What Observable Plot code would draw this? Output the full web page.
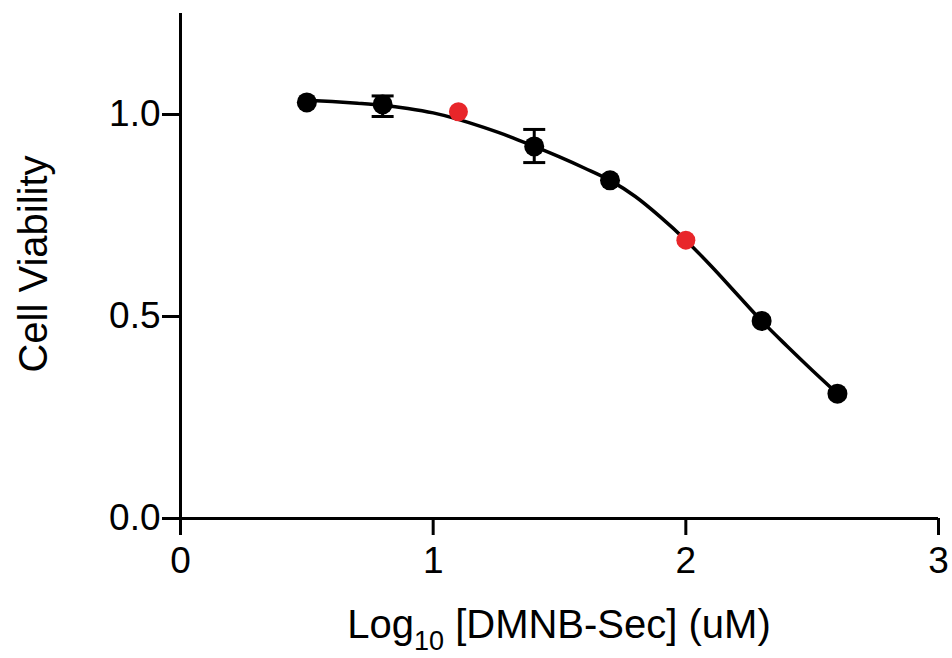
<!DOCTYPE html>
<html>
<head>
<meta charset="utf-8">
<script src="https://cdn.jsdelivr.net/npm/d3@7"></script>
<script src="https://cdn.jsdelivr.net/npm/@observablehq/plot@0.6"></script>
<style>
  html, body { margin: 0; padding: 0; background: #fff; }
  #chart svg { display: block; }
</style>
</head>
<body>
<div id="chart"></div>
<script>
// Measured points (log10 concentration, viability)
const logConc   = [0.5, 0.8, 1.1, 1.4, 1.7, 2.0, 2.3, 2.6];
const viability = [1.030, 1.025, 1.007, 0.921, 0.837, 0.689, 0.489, 0.309];
const isRed     = [false, false, true, false, false, true, false, false];
// Error bars (only where visible)
const errX    = [0.8, 1.4];
const errLow  = [0.995, 0.881];
const errHigh = [1.046, 0.963];
// Fitted curve
const curveX = [0.5, 0.6, 0.7, 0.8, 0.9, 1.0, 1.1, 1.2, 1.3, 1.4, 1.5, 1.6, 1.7, 1.8, 1.9, 2.0, 2.1, 2.2, 2.3, 2.4, 2.5, 2.6];
const curveY = [1.035, 1.032, 1.028, 1.023, 1.015, 1.004, 0.988, 0.968, 0.946, 0.921, 0.895, 0.867, 0.837, 0.797, 0.746, 0.689, 0.625, 0.557, 0.489, 0.427, 0.367, 0.309];
const xTicks = [0, 1, 2, 3];
const yTicks = [0, 0.5, 1.0];

const points = logConc.map((x, i) => ({x, y: viability[i], red: isRed[i]}));
const blackPts = points.filter(d => !d.red);
const redPts = points.filter(d => d.red);
const errs = errX.map((x, i) => ({x, lo: errLow[i], hi: errHigh[i]}));
const curve = curveX.map((x, i) => ({x, y: curveY[i]}));

const capSymbol = {
  draw(ctx, size) {
    const w = Math.sqrt(size / Math.PI);
    ctx.moveTo(-w, 0);
    ctx.lineTo(w, 0);
  }
};

const W = 952, H = 658;
const svg = Plot.plot({
  width: W,
  height: H,
  marginLeft: 180,
  marginRight: 14,
  marginTop: 13,
  marginBottom: 140,
  style: {fontFamily: "'Liberation Sans', Arial, sans-serif", fontSize: "37px", color: "#000", background: "#fff"},
  x: {domain: [0, 3]},
  y: {domain: [0, 1.25]},
  marks: [
    Plot.axisX({ticks: xTicks, tickSize: 17, tickPadding: 11, strokeWidth: 3, tickFormat: d3.format("d"), label: null, fontSize: 37}),
    Plot.axisY({ticks: yTicks, tickSize: 18, tickPadding: 2, strokeWidth: 3, tickFormat: d3.format(".1f"), label: null, fontSize: 37}),
    Plot.ruleY([0], {strokeWidth: 3, stroke: "#000"}),
    Plot.ruleX([0], {strokeWidth: 3, stroke: "#000"}),
    Plot.line(curve, {x: "x", y: "y", curve: "monotone-x", stroke: "#000", strokeWidth: 3.5}),
    Plot.ruleX(errs, {x: "x", y1: "lo", y2: "hi", stroke: "#000", strokeWidth: 3}),
    Plot.dot(errs, {x: "x", y: "lo", symbol: capSymbol, r: 11, stroke: "#000", strokeWidth: 3, fill: "none"}),
    Plot.dot(errs, {x: "x", y: "hi", symbol: capSymbol, r: 11, stroke: "#000", strokeWidth: 3, fill: "none"}),
    Plot.dot(blackPts, {x: "x", y: "y", r: 10, fill: "#000", stroke: "none"}),
    Plot.dot(redPts, {x: "x", y: "y", r: 9.5, fill: "#e8262a", stroke: "none"})
  ]
});

const s = d3.select(svg);
// X axis title with subscript
const xt = s.append("text")
  .attr("x", (180 + (W - 14)) / 2)
  .attr("y", 638)
  .attr("text-anchor", "middle")
  .attr("fill", "#000")
  .style("font-size", "40px")
  .style("font-family", "'Liberation Sans', Arial, sans-serif");
xt.append("tspan").text("Log");
xt.append("tspan").attr("dy", 12).style("font-size", "27px").text("10");
xt.append("tspan").attr("dy", -12).text(" [DMNB-Sec] (uM)");
// Y axis title
s.append("text")
  .attr("transform", "translate(47,264) rotate(-90)")
  .attr("text-anchor", "middle")
  .attr("fill", "#000")
  .style("font-size", "40px")
  .style("font-family", "'Liberation Sans', Arial, sans-serif")
  .text("Cell Viability");

document.getElementById("chart").appendChild(svg);
</script>
</body>
</html>
